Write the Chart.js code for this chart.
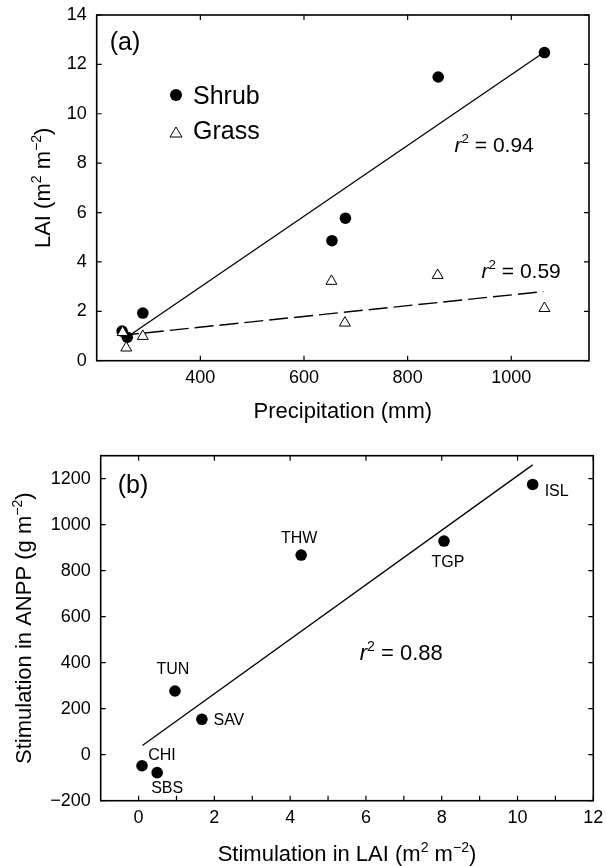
<!DOCTYPE html>
<html>
<head>
<meta charset="utf-8">
<script src="https://cdn.jsdelivr.net/npm/chart.js@4.4.1/dist/chart.umd.min.js"></script>
<style>
  html, body { margin: 0; padding: 0; background: #fff; }
  body { width: 606px; height: 866px; overflow: hidden; position: relative; }
  .panel { position: absolute; left: 0; width: 606px; height: 433px; }
  #wa { top: 0; }
  #wb { top: 433px; }
</style>
</head>
<body>
<div class="panel" id="wa"><canvas id="ca"></canvas></div>
<div class="panel" id="wb"><canvas id="cb"></canvas></div>
<script>
// ---------- Panel (a) data ----------
const shrubPrecip = [249, 259, 289, 654, 680, 859, 1064];
const shrubLAI    = [1.20, 0.95, 1.93, 4.86, 5.77, 11.49, 12.48];
const grassPrecip = [250, 257, 289, 653, 679, 858, 1064];
const grassLAI    = [1.15, 0.52, 0.99, 3.22, 1.53, 3.46, 2.12];
const shrubFitPrecip = [251, 1064];
const shrubFitLAI    = [0.85, 12.5];
const grassFitPrecip = [245, 1062];
const grassFitLAI    = [1.02, 2.80];
const precipTicks = [400, 600, 800, 1000];
const laiTicks    = [0, 2, 4, 6, 8, 10, 12, 14];
const seriesNames = ['Shrub', 'Grass'];
const r2Shrub = '0.94';
const r2Grass = '0.59';

// ---------- Panel (b) data ----------
const sites     = ['CHI', 'SBS', 'TUN', 'SAV', 'THW', 'TGP', 'ISL'];
const laiStim   = [0.09, 0.49, 0.96, 1.67, 4.29, 8.06, 10.40];
const anppStim  = [-48, -78, 277, 154, 868, 929, 1175];
const fitLaiStim  = [0.1, 10.4];
const fitAnppStim = [40, 1260];
const laiStimTicks  = [0, 2, 4, 6, 8, 10, 12];
const laiStimMinor  = [1, 3, 5, 7, 9, 11];
const anppStimTicks = [-200, 0, 200, 400, 600, 800, 1000, 1200];
const r2Anpp = '0.88';

// ---------- styling ----------
const FONT = '"Liberation Sans", Arial, Helvetica, sans-serif';
Chart.defaults.font.family = FONT;
Chart.defaults.color = '#000';
const TICK_LEN = 5;
// label offsets (pixels) for site names in panel (b)
const siteLabelOffsets = [[20, -12], [10, 15], [-2, -23], [27, 0], [-2, -18], [4, 20], [24, 6]];

function pts(xs, ys) { return xs.map((v, i) => ({ x: v, y: ys[i] })); }

function richText(ctx, parts, x, y, size, align, rotate) {
  ctx.save();
  ctx.translate(x, y);
  if (rotate) ctx.rotate(rotate);
  const supSize = size * 0.64;
  let total = 0;
  const m = parts.map(p => {
    const s = p.sup ? supSize : size;
    const f = (p.italic ? 'italic ' : '') + s + 'px ' + FONT;
    ctx.font = f;
    const w = ctx.measureText(p.t).width;
    total += w;
    return { p, f, w };
  });
  let cx = align === 'left' ? 0 : -total / 2;
  ctx.textAlign = 'left';
  ctx.textBaseline = 'alphabetic';
  ctx.fillStyle = '#000';
  const base = size * 0.36;
  for (const it of m) {
    ctx.font = it.f;
    ctx.fillText(it.p.t, cx, base - (it.p.sup ? size * 0.42 : 0));
    cx += it.w;
  }
  ctx.restore();
}

function drawFrameAndTicks(chart, marks) {
  const { ctx, chartArea: ca, scales: { x, y } } = chart;
  ctx.save();
  ctx.strokeStyle = '#000';
  ctx.lineWidth = 1.2;
  ctx.beginPath();
  for (const v of marks.xBottom) {
    const px = x.getPixelForValue(v);
    ctx.moveTo(px, ca.bottom); ctx.lineTo(px, ca.bottom - TICK_LEN);
  }
  for (const v of marks.xTop) {
    const px = x.getPixelForValue(v);
    ctx.moveTo(px, ca.top); ctx.lineTo(px, ca.top + TICK_LEN);
  }
  for (const v of marks.y) {
    const py = y.getPixelForValue(v);
    ctx.moveTo(ca.left, py); ctx.lineTo(ca.left + TICK_LEN, py);
    ctx.moveTo(ca.right, py); ctx.lineTo(ca.right - TICK_LEN, py);
  }
  ctx.stroke();
  ctx.lineWidth = 1.6;
  ctx.strokeRect(ca.left, ca.top, ca.right - ca.left, ca.bottom - ca.top);
  ctx.restore();
}

const commonScale = (min, max, ticksArr, fitSize, horiz, pad) => ({
  type: 'linear', min, max,
  grid: { display: false, drawTicks: false },
  border: { display: false },
  ticks: {
    color: '#000', font: { size: 18, family: FONT }, padding: pad,
    callback: v => String(v).replace('-', '\u2212')
  },
  afterBuildTicks: s => { s.ticks = ticksArr.map(v => ({ value: v })); },
  afterFit: s => {
    if (horiz) s.height = fitSize; else s.width = fitSize;
    s.paddingTop = 0; s.paddingBottom = 0; s.paddingLeft = 0; s.paddingRight = 0;
  }
});

// ---------- Chart (a) ----------
const plugA = {
  id: 'decorA',
  afterDraw(chart) {
    drawFrameAndTicks(chart, { xBottom: precipTicks, xTop: precipTicks, y: laiTicks });
    const { ctx, chartArea: ca, scales: { x, y } } = chart;
    // axis titles
    richText(ctx, [{ t: 'Precipitation (mm)' }], (ca.left + ca.right) / 2, 410, 22, 'center');
    richText(ctx, [{ t: 'LAI (m' }, { t: '2', sup: true }, { t: ' m' }, { t: '\u22122', sup: true }, { t: ')' }],
      42, (ca.top + ca.bottom) / 2, 22, 'center', -Math.PI / 2);
    // panel label
    richText(ctx, [{ t: '(a)' }], 125, 41, 25, 'center');
    // legend
    ctx.save();
    ctx.fillStyle = '#000';
    ctx.beginPath(); ctx.arc(176, 95, 6, 0, Math.PI * 2); ctx.fill();
    ctx.restore();
    ctx.save();
    ctx.strokeStyle = '#000'; ctx.fillStyle = '#fff'; ctx.lineWidth = 1;
    ctx.beginPath();
    ctx.moveTo(176, 127); ctx.lineTo(182, 137); ctx.lineTo(170, 137); ctx.closePath();
    ctx.fill(); ctx.stroke();
    ctx.restore();
    richText(ctx, [{ t: seriesNames[0] }], 193, 95, 25, 'left');
    richText(ctx, [{ t: seriesNames[1] }], 193, 130, 25, 'left');
    // r2 annotations
    richText(ctx, [{ t: 'r', italic: true }, { t: '2', sup: true }, { t: ' = ' + r2Shrub }],
      x.getPixelForValue(967), y.getPixelForValue(8.76), 21, 'center');
    richText(ctx, [{ t: 'r', italic: true }, { t: '2', sup: true }, { t: ' = ' + r2Grass }],
      x.getPixelForValue(1019), y.getPixelForValue(3.67), 21, 'center');
  }
};

new Chart(document.getElementById('ca'), {
  type: 'scatter',
  data: {
    datasets: [
      { label: 'Grass', data: pts(grassPrecip, grassLAI), pointStyle: 'triangle', pointRadius: 6.3,
        backgroundColor: '#fff', borderColor: '#000', borderWidth: 1, order: 0 },
      { label: 'Shrub', data: pts(shrubPrecip, shrubLAI), pointStyle: 'circle', pointRadius: 5.8,
        backgroundColor: '#000', borderColor: '#000', borderWidth: 0, order: 1 },
      { type: 'line', label: 'Shrub fit', data: pts(shrubFitPrecip, shrubFitLAI), borderColor: '#000',
        borderWidth: 1.3, pointRadius: 0, fill: false, order: 2 },
      { type: 'line', label: 'Grass fit', data: pts(grassFitPrecip, grassFitLAI), borderColor: '#000',
        borderWidth: 1.4, borderDash: [19, 6], pointRadius: 0, fill: false, order: 3 }
    ]
  },
  options: {
    responsive: true, maintainAspectRatio: false, animation: false, devicePixelRatio: 1,
    layout: { padding: { top: 15, right: 17, left: 0, bottom: 0 } },
    plugins: { legend: { display: false }, tooltip: { enabled: false } },
    scales: {
      x: commonScale(200, 1150, precipTicks, 72.3, true, 7),
      y: commonScale(0, 14, laiTicks, 96.7, false, 10)
    }
  },
  plugins: [plugA]
});

// ---------- Chart (b) ----------
const plugB = {
  id: 'decorB',
  afterDraw(chart) {
    drawFrameAndTicks(chart, { xBottom: laiStimTicks.concat(laiStimMinor), xTop: laiStimTicks, y: anppStimTicks });
    const { ctx, chartArea: ca, scales: { x, y } } = chart;
    richText(ctx, [{ t: 'Stimulation in LAI (m' }, { t: '2', sup: true }, { t: ' m' }, { t: '\u22122', sup: true }, { t: ')' }],
      (ca.left + ca.right) / 2, 853 - 433, 22, 'center');
    richText(ctx, [{ t: 'Stimulation in ANPP (g m' }, { t: '\u22122', sup: true }, { t: ')' }],
      23, (ca.top + ca.bottom) / 2, 22, 'center', -Math.PI / 2);
    richText(ctx, [{ t: '(b)' }], 133, 484 - 433, 25, 'center');
    sites.forEach((s, i) => {
      const px = x.getPixelForValue(laiStim[i]) + siteLabelOffsets[i][0];
      const py = y.getPixelForValue(anppStim[i]) + siteLabelOffsets[i][1];
      richText(ctx, [{ t: s }], px, py, 16, 'center');
    });
    richText(ctx, [{ t: 'r', italic: true }, { t: '2', sup: true }, { t: ' = ' + r2Anpp }],
      x.getPixelForValue(6.93), y.getPixelForValue(446), 22, 'center');
  }
};

new Chart(document.getElementById('cb'), {
  type: 'scatter',
  data: {
    datasets: [
      { label: 'Sites', data: pts(laiStim, anppStim), pointStyle: 'circle', pointRadius: 5.8,
        backgroundColor: '#000', borderColor: '#000', borderWidth: 0, order: 0 },
      { type: 'line', label: 'Fit', data: pts(fitLaiStim, fitAnppStim), borderColor: '#000',
        borderWidth: 1.3, pointRadius: 0, fill: false, order: 1 }
    ]
  },
  options: {
    responsive: true, maintainAspectRatio: false, animation: false, devicePixelRatio: 1,
    layout: { padding: { top: 22.7, right: 12.7, left: 0, bottom: 0 } },
    plugins: { legend: { display: false }, tooltip: { enabled: false } },
    scales: {
      x: commonScale(-1, 12, laiStimTicks, 65.3, true, 7),
      y: commonScale(-200, 1300, anppStimTicks, 100.7, false, 10)
    }
  },
  plugins: [plugB]
});
</script>
</body>
</html>
